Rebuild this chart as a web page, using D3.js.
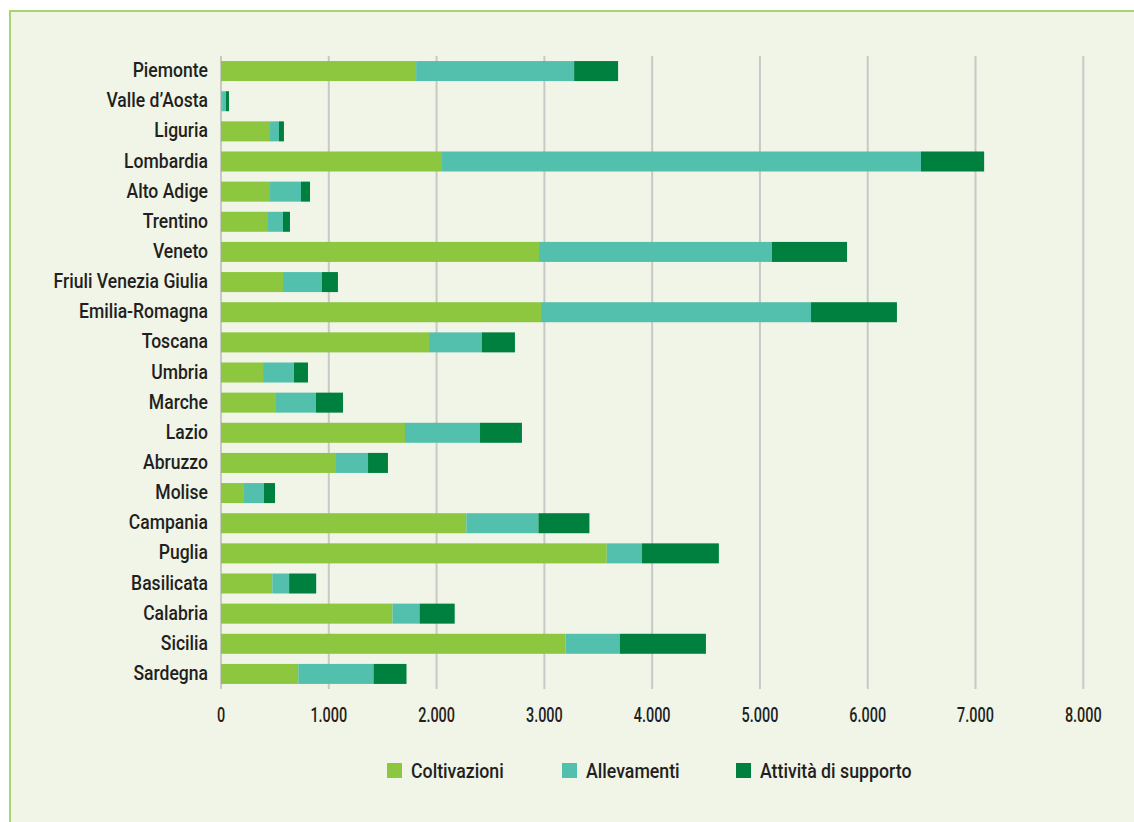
<!DOCTYPE html>
<html lang="it">
<head>
<meta charset="utf-8">
<script src="https://cdn.jsdelivr.net/npm/d3@7"></script>
<style>
  html, body { margin: 0; padding: 0; background: #ffffff; }
  svg { display: block; }
  text { font-family: Roboto, "Noto Sans", sans-serif; font-weight: 500; fill: #231f20; }
</style>
</head>
<body>
<svg id="chart" width="1134" height="822"></svg>
<script>
// Regioni e valori (valori in milioni di euro circa) per comparto
const regions = [
  "Piemonte", "Valle d’Aosta", "Liguria", "Lombardia", "Alto Adige", "Trentino",
  "Veneto", "Friuli Venezia Giulia", "Emilia-Romagna", "Toscana", "Umbria", "Marche",
  "Lazio", "Abruzzo", "Molise", "Campania", "Puglia", "Basilicata", "Calabria",
  "Sicilia", "Sardegna"
];
const coltivazioni = [1810, 10, 455, 2050, 455, 436, 2950, 575, 2969, 1930, 390, 510, 1707, 1067, 213, 2276, 3579, 476, 1591, 3198, 717];
const allevamenti  = [1466, 36, 83, 4444, 287, 139, 2162, 362, 2505, 491, 287, 371, 696, 297, 186, 669, 327, 156, 251, 502, 698];
const supporto     = [408, 28, 46, 586, 84, 65, 696, 148, 797, 306, 130, 251, 389, 185, 102, 473, 713, 251, 326, 799, 306];

const seriesNames  = ["Coltivazioni", "Allevamenti", "Attività di supporto"];
const seriesColors = ["#8dc63f", "#53c0ad", "#00803e"];
const xTicks = [0, 1000, 2000, 3000, 4000, 5000, 6000, 7000, 8000];

const svg = d3.select("#chart");

// pannello di sfondo con bordo verde
svg.append("rect")
  .attr("x", 10).attr("y", 11)
  .attr("width", 1140).attr("height", 830)
  .attr("fill", "#f0f5e8")
  .attr("stroke", "#a7d671")
  .attr("stroke-width", 2);

const x = d3.scaleLinear().domain([0, 8000]).range([221, 1083.3]);
const y = d3.scaleBand().domain(regions).range([56, 689]).paddingInner(0.336).paddingOuter(0.168);

// testo "condensato": scala orizzontale del carattere
function condensed(sel, sx) {
  return sel.attr("transform", d => `translate(${d.tx},${d.ty}) scale(${sx},1)`);
}

// griglia verticale
svg.append("g").selectAll("line")
  .data(xTicks)
  .join("line")
  .attr("x1", d => x(d)).attr("x2", d => x(d))
  .attr("y1", 56).attr("y2", 689)
  .attr("stroke", "#c8c9c6")
  .attr("stroke-width", 2);

// dati impilati
const rows = regions.map((r, i) => ({
  region: r,
  Coltivazioni: coltivazioni[i],
  Allevamenti: allevamenti[i],
  "Attività di supporto": supporto[i]
}));
const stack = d3.stack().keys(seriesNames)(rows);

svg.append("g").selectAll("g")
  .data(stack)
  .join("g")
  .attr("fill", (d, i) => seriesColors[i])
  .selectAll("rect")
  .data(d => d)
  .join("rect")
  .attr("x", d => x(d[0]))
  .attr("y", d => y(d.data.region))
  .attr("width", d => x(d[1]) - x(d[0]))
  .attr("height", y.bandwidth());

// etichette delle regioni
svg.append("g").selectAll("text")
  .data(regions.map(r => ({ label: r, tx: 208, ty: y(r) + y.bandwidth() / 2 + 6 })))
  .join("text")
  .attr("text-anchor", "end")
  .attr("font-size", 19.5)
  .text(d => d.label)
  .call(condensed, 0.9);

// etichette dell'asse x
const fmt = v => v === 0 ? "0" : d3.format(",")(v).replace(/,/g, ".");
svg.append("g").selectAll("text")
  .data(xTicks.map(v => ({ label: fmt(v), tx: x(v), ty: 722 })))
  .join("text")
  .attr("text-anchor", "middle")
  .attr("font-size", 19.5)
  .text(d => d.label)
  .call(condensed, 0.74);

// legenda
const legendX = [387, 562, 736];
const legend = svg.append("g");
legend.selectAll("rect")
  .data(seriesNames)
  .join("rect")
  .attr("x", (d, i) => legendX[i])
  .attr("y", 763)
  .attr("width", 15).attr("height", 15)
  .attr("fill", (d, i) => seriesColors[i]);
legend.selectAll("text")
  .data(seriesNames.map((s, i) => ({ label: s, tx: legendX[i] + 24, ty: 777.5 })))
  .join("text")
  .attr("font-size", 19.5)
  .text(d => d.label)
  .call(condensed, 0.91);
</script>
</body>
</html>
